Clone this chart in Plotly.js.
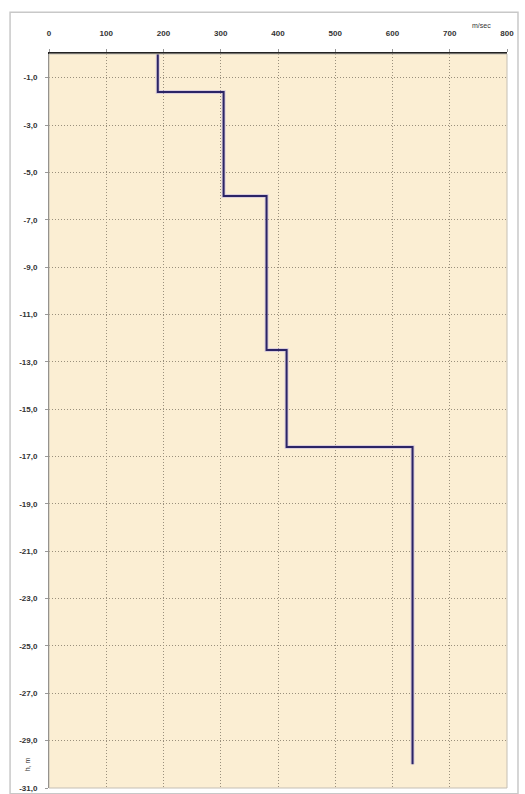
<!DOCTYPE html>
<html><head><meta charset="utf-8">
<script src="https://cdn.plot.ly/plotly-3.0.1.min.js"></script>
<style>body{margin:0;background:#fff}#c{width:525px;height:794px}</style>
</head><body><div id="c"></div>
<script>
// layer velocities (m/sec) and layer top depths (m)
const velocity = [190, 305, 380, 415, 635, 635];
const depth = [0, -1.6, -6.0, -12.5, -16.6, -30.0];
const xTicks = [0, 100, 200, 300, 400, 500, 600, 700, 800];
const yTicks = [-1, -3, -5, -7, -9, -11, -13, -15, -17, -19, -21, -23, -25, -27, -29, -31];
const yTickText = ["-1,0","-3,0","-5,0","-7,0","-9,0","-11,0","-13,0","-15,0","-17,0","-19,0","-21,0","-23,0","-25,0","-27,0","-29,0","-31,0"];

const traces = [
  {x: velocity, y: depth, mode: 'lines', line: {shape: 'vh', color: 'rgba(160,145,230,0.35)', width: 4}, hoverinfo: 'skip'},
  {x: velocity, y: depth, mode: 'lines', line: {shape: 'vh', color: '#2b2466', width: 2}}
];
const tf = {family: 'Liberation Sans, Arial', size: 8, color: '#333', weight: 'bold'};
const layout = {
  width: 525, height: 794,
  margin: {l: 49, r: 18, t: 54, b: 6},
  paper_bgcolor: '#fff', plot_bgcolor: '#fbeed3',
  showlegend: false,
  xaxis: {side: 'top', range: [0, 800], tickvals: xTicks, ticktext: xTicks.map(String),
    showgrid: true, gridcolor: '#9a907c', griddash: '1px,2px', gridwidth: 1,
    showline: true, linecolor: '#222', linewidth: 2, ticks: 'outside', ticklen: 3, tickcolor: '#999',
    ticklabelstandoff: 10,
    tickfont: tf, zeroline: false, fixedrange: true},
  yaxis: {range: [-31, 0], tickvals: yTicks, ticktext: yTickText,
    showgrid: true, gridcolor: '#9a907c', griddash: '1px,2px', gridwidth: 1,
    showline: true, linecolor: '#666', linewidth: 1, ticks: 'outside', ticklen: 3, tickcolor: '#999',
    ticklabelstandoff: 6, ticklabeloverflow: 'allow',
    tickfont: tf, zeroline: false, fixedrange: true},
  shapes: [
    {type: 'rect', xref: 'paper', yref: 'paper', x0: 0, x1: 1, y0: 0, y1: 1, line: {color: '#c4bfb4', width: 1}},
    {type: 'rect', xref: 'paper', yref: 'paper', x0: -0.085, x1: 1.024, y0: -0.008, y1: 1.057, line: {color: '#c8c8c8', width: 1.5}}
  ],
  annotations: [
    {text: 'm/sec', xref: 'x', yref: 'paper', x: 755, y: 1.046, showarrow: false, font: {family: 'Liberation Sans, Arial', size: 7, color: '#333'}},
    {text: 'h, m', xref: 'paper', yref: 'y', x: -0.06, y: -30, textangle: -90, showarrow: false, font: {family: 'Liberation Sans, Arial', size: 7, color: '#333'}}
  ]
};
Plotly.newPlot('c', traces, layout, {displayModeBar: false, staticPlot: true});
</script></body></html>
